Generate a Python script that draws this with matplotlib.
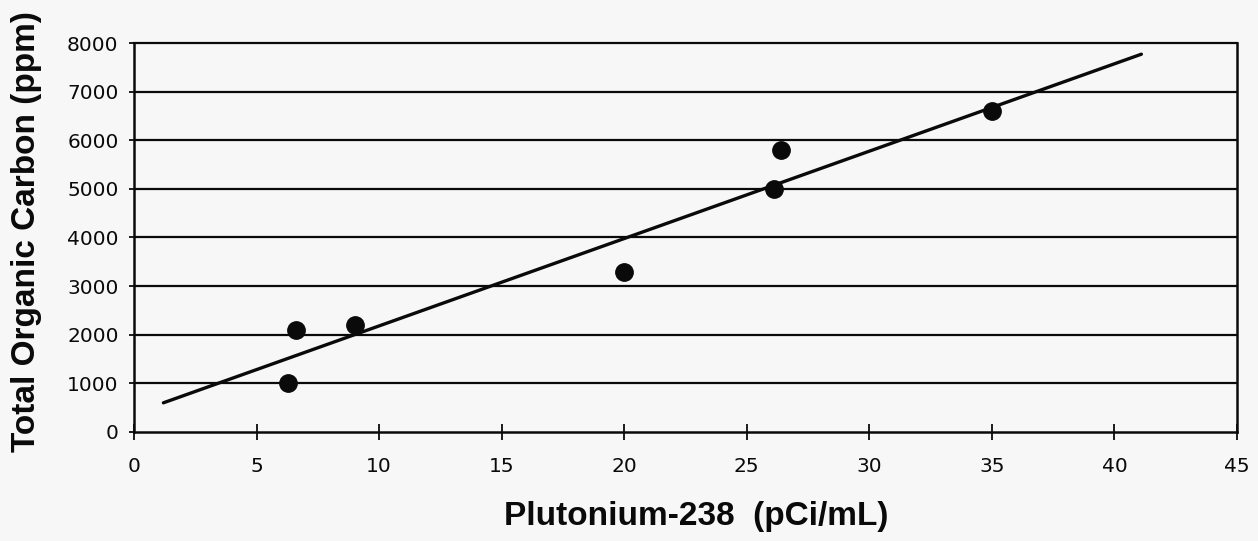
import matplotlib.pyplot as plt
import numpy as np

# Pu-238 activity vs. total organic carbon for the tank samples
pu238 = [6.3, 6.6, 9.0, 20.0, 26.1, 26.4, 35.0]        # pCi/mL
toc = [1000, 2100, 2200, 3300, 5000, 5800, 6600]       # ppm

# linear trend line end points
trend_x = [1.2, 41.1]
trend_y = [600, 7770]

x_ticks = [0, 5, 10, 15, 20, 25, 30, 35, 40, 45]
y_ticks = [0, 1000, 2000, 3000, 4000, 5000, 6000, 7000, 8000]

plt.rcParams.update({'font.family': 'DejaVu Sans'})
plt.rcParams.update({'xtick.labelsize': 14.5})
plt.rcParams.update({'ytick.labelsize': 14.5})

bg = '#f7f7f7'
ink = '#0a0a0a'

fig = plt.figure(figsize=(12.58, 5.41), dpi=100, facecolor=bg)
ax = fig.add_axes([0.1065, 0.2015, 0.8768, 0.719], facecolor=bg)

ax.plot(trend_x, trend_y, color=ink, linewidth=2.4, solid_capstyle='round', zorder=3)
ax.plot(pu238, toc, 'o', color=ink, markersize=12.5, zorder=4)

ax.set_xlim(0, 45)
ax.set_ylim(0, 8000)
ax.set_xticks(x_ticks)
ax.set_yticks(y_ticks)

# horizontal grid only, skip the lines sitting on the frame
ax.yaxis.grid(True, color=ink, linewidth=1.6)
ax.set_axisbelow(True)
gl = ax.get_ygridlines()
gl[0].set_visible(False)
gl[-1].set_visible(False)

ax.tick_params(axis='x', direction='inout', length=11.5, width=1.3, pad=12.5, colors=ink)
ax.tick_params(axis='y', direction='out', length=3.6, width=1.3, pad=7.5, colors=ink)

for side in ['left', 'bottom', 'right']:
    ax.spines[side].set_color(ink)
    ax.spines[side].set_linewidth(1.8)
ax.spines['top'].set_color(ink)
ax.spines['top'].set_linewidth(1.6)
ax.spines['top'].set_linestyle((0, (1, 1)))

ax.set_xlabel("Plutonium-238  (pCi/mL)", family='Liberation Sans', fontsize=24,
              fontweight='bold', color=ink, va='center')
ax.xaxis.set_label_coords(0.5095, -0.2185)
ax.set_ylabel("Total Organic Carbon (ppm)", family='Liberation Sans', fontsize=24,
              fontweight='bold', color=ink, va='center')
ax.yaxis.set_label_coords(-0.097, 0.514)

fig.savefig("out.png", dpi=100, facecolor=bg)
